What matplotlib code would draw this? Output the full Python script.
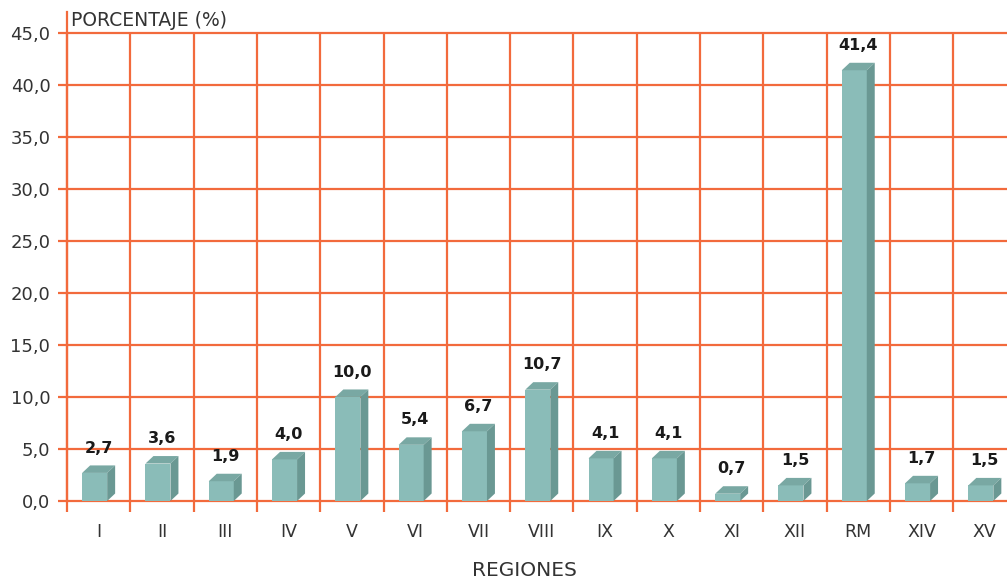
import numpy as np
import matplotlib
matplotlib.use("Agg")
import matplotlib.pyplot as plt
from matplotlib.patches import Polygon

regiones = ["I", "II", "III", "IV", "V", "VI", "VII", "VIII", "IX", "X",
            "XI", "XII", "RM", "XIV", "XV"]
porcentaje = [2.7, 3.6, 1.9, 4.0, 10.0, 5.4, 6.7, 10.7, 4.1, 4.1,
              0.7, 1.5, 41.4, 1.7, 1.5]
yticks = [0, 5, 10, 15, 20, 25, 30, 35, 40, 45]

plt.rcParams['font.family'] = ['DejaVu Sans']

grid_c = "#F26A3C"
front_c = "#8ABCB8"
side_c = "#6A9893"
top_c = "#79A8A3"
txt_c = "#333333"

fig = plt.figure(figsize=(10.07, 5.84), dpi=100)
ax = fig.add_axes([67 / 1007, 83 / 584, 949.5 / 1007, 489 / 584])
ax.set_xlim(0, 15)
ax.set_ylim(0, 47)

# grid
for y in yticks:
    ax.hlines(y, -0.14, 15, color=grid_c, lw=1.6, clip_on=False, zorder=1)
for x in range(16):
    ax.vlines(x, -1.05, 45, color=grid_c, lw=1.6, clip_on=False, zorder=1)

# 3D-ish bars
w = 0.395
dx = 0.126
dy = 0.72
pos = np.arange(len(regiones)) + 0.5
left = pos - (w + dx) / 2
ax.bar(left, porcentaje, width=w, align="edge", color=front_c, zorder=3)
for l, v in zip(left, porcentaje):
    top = Polygon([(l, v), (l + dx, v + dy), (l + w + dx, v + dy), (l + w, v)],
                  closed=True, facecolor=top_c, edgecolor="none", zorder=3)
    side = Polygon([(l + w, 0), (l + w + dx, dy), (l + w + dx, v + dy), (l + w, v)],
                   closed=True, facecolor=side_c, edgecolor="none", zorder=3)
    ax.add_patch(top)
    ax.add_patch(side)
    ax.text(l + (w + dx) / 2, v + dy + 0.95, f"{v:.1f}".replace(".", ","),
            ha="center", va="bottom", fontsize=11.5, fontweight="bold",
            color="#1a1a1a", zorder=4)

ax.set_xticks(pos)
ax.set_xticklabels(regiones)
ax.set_yticks(yticks)
ax.set_yticklabels([f"{v:.1f}".replace(".", ",") for v in yticks])
ax.tick_params(axis="x", length=0, pad=16, labelsize=12.5, labelcolor=txt_c)
ax.tick_params(axis="y", length=0, pad=12, labelsize=13, labelcolor=txt_c)

for s in ["top", "right", "bottom"]:
    ax.spines[s].set_visible(False)
ax.spines["left"].set_color(grid_c)
ax.spines["left"].set_linewidth(1.6)

fig.text(71 / 1007, 1 - 20 / 584, "PORCENTAJE (%)", ha="left", va="center",
         fontsize=13.5, color=txt_c)
fig.text(524 / 1007, 1 - 570 / 584, "REGIONES", ha="center", va="center",
         fontsize=14.5, color=txt_c)

plt.savefig("out.png", dpi=100)
plt.close()
